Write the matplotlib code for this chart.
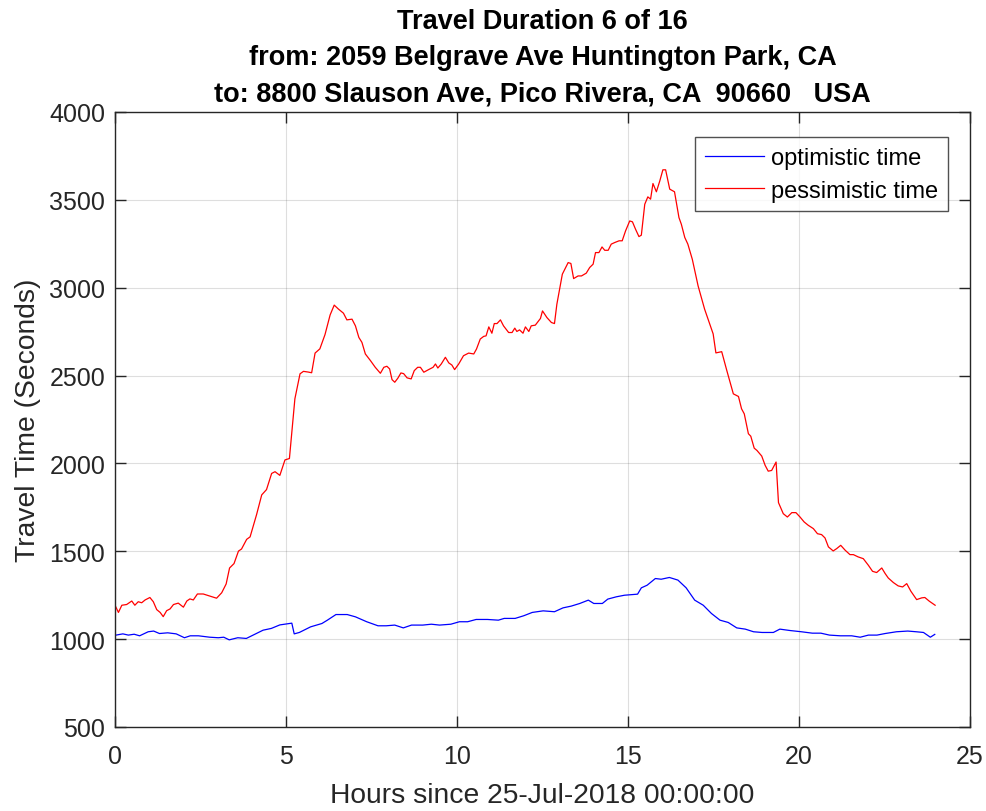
import matplotlib
matplotlib.use("Agg")
import matplotlib.pyplot as plt

plt.rcParams['font.family'] = ['Liberation Sans', 'DejaVu Sans']

red_h = [0.0, 0.1, 0.2, 0.34, 0.49, 0.58, 0.68, 0.78, 0.88, 1.02, 1.12, 1.22, 1.32, 1.41, 1.51, 1.61, 1.71,
         1.85, 2.0, 2.1, 2.19, 2.29, 2.41, 2.58, 2.78, 2.97, 3.12, 3.25, 3.35, 3.48, 3.61, 3.7, 3.85, 3.95,
         4.14, 4.29, 4.43, 4.58, 4.68, 4.82, 4.97, 5.1, 5.2, 5.26, 5.41, 5.51, 5.65, 5.75, 5.85, 5.99, 6.14,
         6.29, 6.41, 6.53, 6.68, 6.78, 6.93, 7.03, 7.13, 7.22, 7.32, 7.47, 7.61, 7.76, 7.86, 7.95, 8.03, 8.1,
         8.18, 8.27, 8.36, 8.44, 8.54, 8.66, 8.75, 8.85, 8.93, 9.03, 9.17, 9.3, 9.37, 9.44, 9.54, 9.66, 9.76,
         9.85, 9.93, 10.05, 10.19, 10.34, 10.49, 10.57, 10.68, 10.78, 10.85, 10.93, 11.02, 11.09, 11.17, 11.27,
         11.36, 11.51, 11.61, 11.69, 11.75, 11.83, 11.93, 12.0, 12.1, 12.17, 12.29, 12.44, 12.5, 12.63, 12.76,
         12.85, 12.92, 13.0, 13.08, 13.25, 13.33, 13.41, 13.54, 13.64, 13.78, 13.88, 13.98, 14.05, 14.15,
         14.24, 14.32, 14.42, 14.51, 14.61, 14.74, 14.83, 14.93, 15.05, 15.13, 15.22, 15.32, 15.39, 15.49,
         15.58, 15.66, 15.73, 15.83, 15.93, 16.02, 16.1, 16.22, 16.36, 16.49, 16.56, 16.66, 16.75, 16.88,
         17.05, 17.24, 17.49, 17.57, 17.74, 17.89, 18.08, 18.23, 18.32, 18.4, 18.52, 18.59, 18.69, 18.77,
         18.91, 19.01, 19.1, 19.2, 19.33, 19.4, 19.54, 19.66, 19.79, 19.91, 20.03, 20.15, 20.27, 20.42,
         20.54, 20.66, 20.76, 20.86, 21.0, 21.1, 21.22, 21.35, 21.49, 21.59, 21.73, 21.88, 22.03, 22.15,
         22.27, 22.42, 22.52, 22.61, 22.76, 22.9, 23.03, 23.15, 23.27, 23.44, 23.59, 23.68, 23.81, 23.98]
red_v = [1193, 1152, 1193, 1197, 1217, 1193, 1213, 1207, 1223, 1237, 1213, 1168, 1152, 1128, 1162, 1172, 1197,
         1205, 1182, 1217, 1229, 1223, 1257, 1257, 1245, 1233, 1264, 1314, 1405, 1430, 1501, 1513, 1568, 1582,
         1709, 1821, 1851, 1943, 1953, 1932, 2020, 2028, 2237, 2368, 2510, 2524, 2520, 2516, 2628, 2652, 2733,
         2845, 2901, 2879, 2855, 2817, 2821, 2783, 2717, 2689, 2623, 2585, 2547, 2513, 2547, 2553, 2538, 2477,
         2462, 2485, 2515, 2511, 2487, 2481, 2528, 2547, 2547, 2519, 2534, 2547, 2566, 2543, 2566, 2604, 2572,
         2560, 2534, 2566, 2613, 2628, 2623, 2651, 2708, 2723, 2726, 2777, 2741, 2796, 2796, 2817,
         2783, 2745, 2745, 2770, 2751, 2760, 2741, 2777, 2751, 2783, 2787, 2825, 2868, 2830, 2802,
         2796, 2906, 2991, 3077, 3143, 3138, 3052, 3067, 3067, 3083, 3115, 3134, 3200, 3200,
         3232, 3213, 3213, 3248, 3257, 3267, 3267, 3324, 3380, 3375, 3333, 3291, 3299, 3475,
         3517, 3504, 3593, 3546, 3608, 3671, 3671, 3561, 3546, 3399, 3361, 3286, 3248, 3162,
         3010, 2878, 2737, 2629, 2636, 2528, 2396, 2381, 2311, 2282, 2169, 2155, 2087, 2074,
         2042, 1989, 1956, 1960, 2008, 1777, 1714, 1695, 1720, 1720, 1695, 1667, 1648, 1629,
         1600, 1595, 1576, 1525, 1502, 1515, 1534, 1506, 1481, 1481, 1468, 1458, 1420, 1386,
         1379, 1405, 1373, 1348, 1322, 1303, 1297, 1316, 1273, 1225, 1235, 1237, 1216, 1193]

blue_h = [0.03, 0.23, 0.39, 0.56, 0.72, 0.97, 1.13, 1.3, 1.54, 1.79, 2.03, 2.2, 2.44, 2.77, 3.02, 3.18, 3.34,
          3.59, 3.84, 4.08, 4.33, 4.57, 4.82, 5.17, 5.24, 5.39, 5.72, 6.05, 6.21, 6.46, 6.79, 7.03, 7.36,
          7.69, 7.93, 8.18, 8.43, 8.67, 9.0, 9.25, 9.49, 9.82, 10.07, 10.31, 10.56, 10.89, 11.21, 11.38,
          11.7, 11.95, 12.2, 12.52, 12.85, 13.1, 13.34, 13.59, 13.84, 14.0, 14.25, 14.41, 14.66, 14.9,
          15.28, 15.39, 15.56, 15.8, 15.97, 16.21, 16.46, 16.7, 16.95, 17.2, 17.44, 17.69, 17.93, 18.18,
          18.43, 18.67, 18.92, 19.25, 19.44, 19.74, 20.07, 20.39, 20.64, 20.89, 21.21, 21.54, 21.79,
          22.03, 22.28, 22.52, 22.85, 23.18, 23.43, 23.64, 23.84, 23.97]
blue_v = [1023, 1030, 1023, 1028, 1019, 1042, 1046, 1032, 1036, 1030, 1008, 1019, 1019, 1011, 1008, 1011, 996,
          1008, 1004, 1027, 1051, 1061, 1081, 1091, 1030, 1038, 1070, 1089, 1108, 1140, 1140, 1127, 1099,
          1076, 1076, 1080, 1064, 1080, 1080, 1085, 1080, 1085, 1099, 1099, 1112, 1112, 1108, 1118,
          1118, 1133, 1152, 1161, 1156, 1178, 1188, 1203, 1222, 1203, 1203, 1228, 1241, 1250,
          1256, 1292, 1307, 1345, 1341, 1351, 1336, 1292, 1222, 1193, 1146, 1108, 1095, 1064,
          1057, 1042, 1038, 1038, 1057, 1049, 1042, 1034, 1034, 1023, 1019, 1019, 1011,
          1023, 1023, 1032, 1042, 1046, 1042, 1038, 1011, 1027]

title_lines = ["Travel Duration 6 of 16",
               "from: 2059 Belgrave Ave Huntington Park, CA",
               "to: 8800 Slauson Ave, Pico Rivera, CA  90660   USA"]
xlabel = "Hours since 25-Jul-2018 00:00:00"
ylabel = "Travel Time (Seconds)"
legend_labels = ["optimistic time", "pessimistic time"]
xticks = [0, 5, 10, 15, 20, 25]
yticks = [500, 1000, 1500, 2000, 2500, 3000, 3500, 4000]

fig = plt.figure(figsize=(9.87, 8.12), dpi=100)
ax = fig.add_axes([115/987, 1-728/812, (970-115)/987, (728-113)/812])

ax.plot(blue_h, blue_v, color='#0000ff', lw=0.9, label=legend_labels[0])
ax.plot(red_h, red_v, color='#ff0000', lw=0.9, label=legend_labels[1])

ax.set_xlim(0, 25)
ax.set_ylim(500, 4000)
ax.set_xticks(xticks)
ax.set_yticks(yticks)
ax.grid(True, color='#262626', alpha=0.15, lw=0.8)
ax.set_axisbelow(True)
dark = '#262626'
for s in ax.spines.values():
    s.set_color(dark)
    s.set_linewidth(1.0)
ax.tick_params(direction='in', length=8, width=1.0, colors=dark, labelsize=18,
               top=True, right=True, pad=7)
ax.tick_params(axis='x', pad=12)
ax.set_xlabel(xlabel, fontsize=20.3, color=dark, labelpad=10)
ax.set_ylabel(ylabel, fontsize=20.3, color=dark, labelpad=6)
ax.set_title("\n".join(title_lines), fontsize=19.5, fontweight='bold', color='black',
             linespacing=1.5, pad=8.5)

leg = ax.legend(loc='upper right', bbox_to_anchor=(0.9743, 0.9593), fontsize=17, frameon=True,
                fancybox=False, edgecolor=dark, handlelength=2.5, borderpad=0.42,
                labelspacing=0.45, handletextpad=0.3, borderaxespad=0)
leg.get_frame().set_linewidth(1.0)

fig.savefig("out.png", dpi=100)
